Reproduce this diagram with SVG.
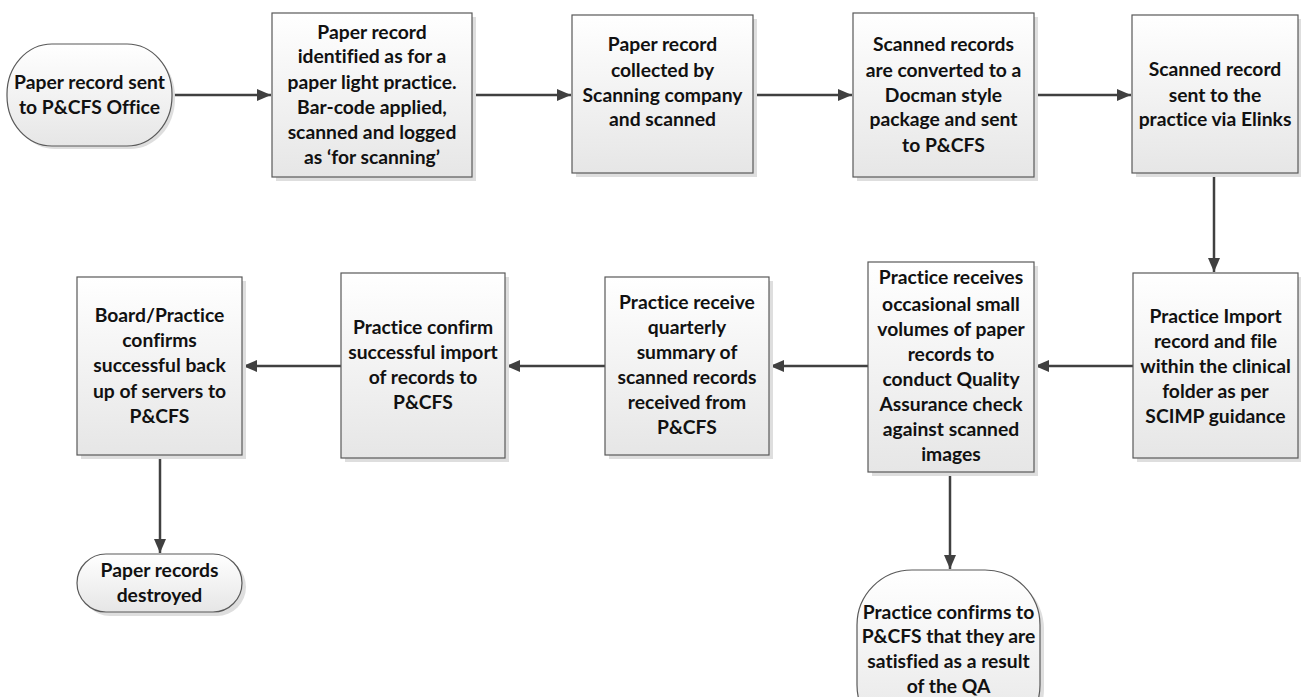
<svg xmlns="http://www.w3.org/2000/svg" width="1301" height="697" viewBox="0 0 1301 697">
<style>
.box{fill:url(#g);stroke:#595959;stroke-width:1.2}
.sh{fill:#dedede}
.t{font-family:Lato,"Open Sans",sans-serif;font-weight:bold;font-size:19.3px;fill:#111;text-anchor:middle;font-variant-ligatures:none}
.c{stroke:#404040;stroke-width:2.5;fill:none;marker-end:url(#a)}
</style>
<defs>
<linearGradient id="g" x1="0" y1="0" x2="0" y2="1">
<stop offset="0" stop-color="#ffffff"/>
<stop offset="1" stop-color="#e6e6e6"/>
</linearGradient>
<marker id="a" viewBox="0 0 14 12" refX="14" refY="6" markerWidth="14" markerHeight="12" markerUnits="userSpaceOnUse" orient="auto">
<path d="M0,0 L14,6 L0,12 Z" fill="#404040"/>
</marker>
</defs>
<g id="connectors">
<line class="c" x1="172" y1="95" x2="271" y2="95"/>
<line class="c" x1="472" y1="95" x2="571" y2="95"/>
<line class="c" x1="753" y1="95" x2="852" y2="95"/>
<line class="c" x1="1034" y1="95" x2="1131" y2="95"/>
<line class="c" x1="1214" y1="173" x2="1214" y2="272"/>
<line class="c" x1="1133" y1="366" x2="1035" y2="366"/>
<line class="c" x1="868" y1="366" x2="770" y2="366"/>
<line class="c" x1="605" y1="366" x2="506" y2="366"/>
<line class="c" x1="341" y1="366" x2="243" y2="366"/>
<line class="c" x1="160" y1="455" x2="160" y2="553"/>
<line class="c" x1="950" y1="472" x2="950" y2="569"/>
</g>
<g id="n1">
<rect class="sh" x="10" y="47" width="165" height="102" rx="45" ry="50"/>
<rect class="box" x="7" y="44" width="165" height="102" rx="45" ry="50"/>
<text class="t"><tspan x="89.5" y="89">Paper record sent</tspan><tspan x="89.5" y="114">to P&amp;CFS Office</tspan></text>
</g>
<g id="n2">
<rect class="sh" x="276" y="17" width="200" height="164"/>
<rect class="box" x="272" y="13" width="200" height="164"/>
<text class="t"><tspan x="372" y="39">Paper record</tspan><tspan x="372" y="63">identified as for a</tspan><tspan x="372" y="89">paper light practice.</tspan><tspan x="372" y="114">Bar-code applied,</tspan><tspan x="372" y="139">scanned and logged</tspan><tspan x="372" y="164">as ‘for scanning’</tspan></text>
</g>
<g id="n3">
<rect class="sh" x="576" y="19" width="181" height="158"/>
<rect class="box" x="572" y="15" width="181" height="158"/>
<text class="t"><tspan x="662.5" y="51">Paper record</tspan><tspan x="662.5" y="77">collected by</tspan><tspan x="662.5" y="102">Scanning company</tspan><tspan x="662.5" y="126">and scanned</tspan></text>
</g>
<g id="n4">
<rect class="sh" x="857" y="17" width="181" height="164"/>
<rect class="box" x="853" y="13" width="181" height="164"/>
<text class="t"><tspan x="943.5" y="51">Scanned records</tspan><tspan x="943.5" y="77">are converted to a</tspan><tspan x="943.5" y="102">Docman style</tspan><tspan x="943.5" y="126">package and sent</tspan><tspan x="943.5" y="152">to P&amp;CFS</tspan></text>
</g>
<g id="n5">
<rect class="sh" x="1136" y="19" width="166" height="158"/>
<rect class="box" x="1132" y="15" width="166" height="158"/>
<text class="t"><tspan x="1215" y="76">Scanned record</tspan><tspan x="1215" y="102">sent to the</tspan><tspan x="1215" y="126">practice via Elinks</tspan></text>
</g>
<g id="n6">
<rect class="sh" x="1137" y="277" width="165" height="185"/>
<rect class="box" x="1133" y="273" width="165" height="185"/>
<text class="t"><tspan x="1215.5" y="323">Practice Import</tspan><tspan x="1215.5" y="348">record and file</tspan><tspan x="1215.5" y="373">within the clinical</tspan><tspan x="1215.5" y="398">folder as per</tspan><tspan x="1215.5" y="423">SCIMP guidance</tspan></text>
</g>
<g id="n7">
<rect class="sh" x="872" y="266" width="166" height="210"/>
<rect class="box" x="868" y="262" width="166" height="210"/>
<text class="t"><tspan x="951" y="284">Practice receives</tspan><tspan x="951" y="311">occasional small</tspan><tspan x="951" y="336">volumes of paper</tspan><tspan x="951" y="361">records to</tspan><tspan x="951" y="386">conduct Quality</tspan><tspan x="951" y="411">Assurance check</tspan><tspan x="951" y="436">against scanned</tspan><tspan x="951" y="461">images</tspan></text>
</g>
<g id="n8">
<rect class="sh" x="609" y="281" width="164" height="178"/>
<rect class="box" x="605" y="277" width="164" height="178"/>
<text class="t"><tspan x="687" y="309">Practice receive</tspan><tspan x="687" y="334">quarterly</tspan><tspan x="687" y="359">summary of</tspan><tspan x="687" y="384">scanned records</tspan><tspan x="687" y="409">received from</tspan><tspan x="687" y="434">P&amp;CFS</tspan></text>
</g>
<g id="n9">
<rect class="sh" x="345" y="277" width="164" height="185"/>
<rect class="box" x="341" y="273" width="164" height="185"/>
<text class="t"><tspan x="423" y="334">Practice confirm</tspan><tspan x="423" y="359">successful import</tspan><tspan x="423" y="384">of records to</tspan><tspan x="423" y="409">P&amp;CFS</tspan></text>
</g>
<g id="n10">
<rect class="sh" x="81" y="281" width="165" height="178"/>
<rect class="box" x="77" y="277" width="165" height="178"/>
<text class="t"><tspan x="159.5" y="322">Board/Practice</tspan><tspan x="159.5" y="347">confirms</tspan><tspan x="159.5" y="372">successful back</tspan><tspan x="159.5" y="398">up of servers to</tspan><tspan x="159.5" y="423">P&amp;CFS</tspan></text>
</g>
<g id="n11">
<rect class="sh" x="81" y="558" width="165" height="58" rx="29" ry="29"/>
<rect class="box" x="77" y="554" width="165" height="58" rx="29" ry="29"/>
<text class="t"><tspan x="159.5" y="577">Paper records</tspan><tspan x="159.5" y="602">destroyed</tspan></text>
</g>
<g id="n12">
<rect class="sh" x="861" y="574" width="183" height="170" rx="55" ry="55"/>
<rect class="box" x="857" y="570" width="183" height="170" rx="55" ry="55"/>
<text class="t"><tspan x="948.5" y="619">Practice confirms to</tspan><tspan x="948.5" y="643">P&amp;CFS that they are</tspan><tspan x="948.5" y="668">satisfied as a result</tspan><tspan x="948.5" y="693">of the QA</tspan></text>
</g>
</svg>
